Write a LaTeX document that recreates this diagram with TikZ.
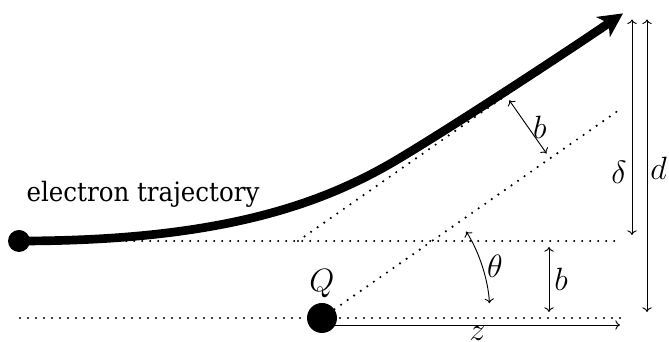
\documentclass[tikz,border=0pt]{standalone}
\usepackage{fontspec}
\setmainfont{DejaVu Serif}[FakeStretch=0.92]
\usetikzlibrary{arrows.meta,calc,positioning}
\tikzset{
  dotline/.style={line width=1.8pt,dash pattern=on 0pt off 6pt,line cap=round},
  dimarrow/.style={{To[length=3.5pt,width=7pt]}-{To[length=3.5pt,width=7pt]},
                   line width=0.7pt,shorten <=4.5pt,shorten >=4.5pt},
  blob/.style={circle,fill=black,inner sep=0pt},
  lab/.style={scale=1.4,inner sep=2.5pt},
}

\begin{document}
\begin{tikzpicture}[x=0.75pt,y=0.75pt,font=\fontsize{16}{19}\selectfont]
      \useasboundingbox (0,0) rectangle (669,342);
      % charge, electron and the two asymptotes
      \node[blob,minimum size=22.5pt] (Q) at (322,24) {};
      \node[lab,above=0pt of Q] (lQ) {$Q$};
      \node[blob,minimum size=16.5pt] (e) at (19,101) {};
      \coordinate (foot) at (298,101);
      \coordinate (tip) at (623,328.6);
      \coordinate (bend) at (400,184);
      \coordinate (zL) at (20,24);
      \coordinate (zR) at (622,24);
      \coordinate (hR) at (622,101);
      \coordinate (sR) at (622,234);
      \draw[dotline] (zL) -- (zR);
      \draw[dotline] (e) -- (hR);
      \draw[dotline] (foot) -- (tip);
      \draw[dotline] (Q) -- (sR);
      \draw[line width=6.5pt,-{Stealth[length=18pt,width=18pt,inset=5pt]}]
        (e.center) .. controls (219,101) and (322,137) .. (bend)
                   .. controls (460.6,220.5) and (565,289) .. (tip);
      \node[anchor=base,font=\fontsize{20}{24}\selectfont] (lbl) at (143,140) {electron trajectory};
      % distances and angle
      \coordinate (z0) at (335,17);
      \coordinate (z1) at (620,17);
      \draw[-{To[length=3.5pt,width=7pt]},line width=0.7pt] (z0) -- node[lab,below,inner sep=0.5pt] {$z$} (z1);
      \draw[dimarrow] ($(Q)+(3:168)$) arc[start angle=3,end angle=33,radius=168]
        node[lab,pos=0.5,right] {$\theta$};
      \coordinate (bt) at (549,101);
      \coordinate (bb) at (549,24);
      \draw[dimarrow] (bt) -- node[lab,right] {$b$} (bb);
      \coordinate (p1) at (505.8,246.6);
      \coordinate (p2) at (550,183.6);
      \draw[dimarrow] (p1) -- node[lab,right] {$b$} (p2);
      \coordinate (dt) at (632,328.6);
      \coordinate (db) at (632,101);
      \draw[dimarrow] (dt) -- node[lab,pos=0.7,left] {$\delta$} (db);
      \coordinate (Dt) at (647,328.6);
      \coordinate (Db) at (647,24);
      \draw[dimarrow] (Dt) -- node[lab,pos=0.51,right,inner sep=1.5pt] {$d$} (Db);
    \end{tikzpicture}
\end{document}
